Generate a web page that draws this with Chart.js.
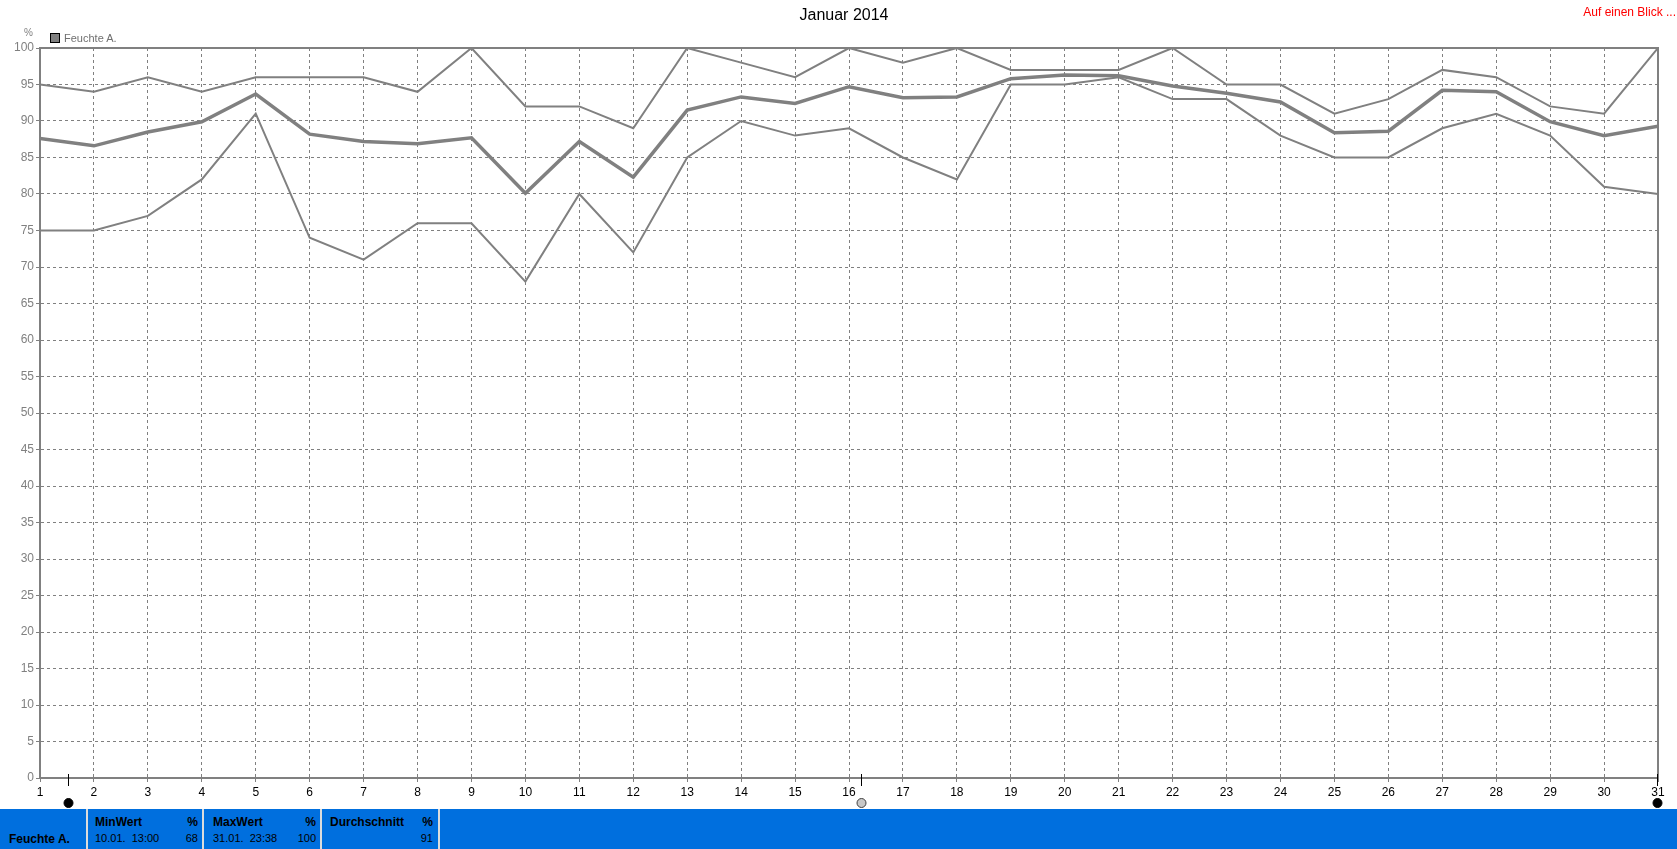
<!DOCTYPE html>
<html>
<head>
<meta charset="utf-8">
<script src="https://cdn.jsdelivr.net/npm/chart.js@4.4.0/dist/chart.umd.min.js"></script>
<style>
    body { margin: 0; width: 1677px; height: 849px; overflow: hidden; background: #fff; position: relative; font-family: "Liberation Sans", Arial, sans-serif; }
    #chart { position: absolute; left: 0; top: 0; }
    .txt { position: absolute; white-space: pre; }
    #title { left: 0; width: 1688px; top: 5px; text-align: center; font-size: 16px; line-height: 20px; color: #000; }
    #glance { right: 1px; top: 5px; font-size: 12px; line-height: 14px; color: #f00; }
    #unit { left: 24px; top: 27px; font-size: 10px; line-height: 12px; color: #808080; }
    #legendBox { position: absolute; left: 50px; top: 33px; width: 8px; height: 8px; background: #808080; border: 1px solid #000; }
    #legendText { left: 64px; top: 32px; font-size: 11px; line-height: 12px; color: #707070; }
    #status { position: absolute; left: 0; top: 809px; width: 1677px; height: 40px; background: #006fde; }
    .cell { position: absolute; top: 0; height: 40px; border-right: 2px solid #dcdcdc; }
    .cell span { position: absolute; white-space: pre; color: #000; }
    .head { top: 7px; font-size: 12px; line-height: 12px; font-weight: bold; }
    .val { top: 24px; font-size: 11px; line-height: 11px; }
</style>
</head>
<body>
<canvas id="chart" width="1677" height="809"></canvas>
<div class="txt" id="title">Januar 2014</div>
<div class="txt" id="glance">Auf einen Blick ...</div>
<div class="txt" id="unit">%</div>
<div id="legendBox"></div>
<div class="txt" id="legendText">Feuchte A.</div>
<div id="status">
    <div class="cell" style="left:0;width:86px;"><span class="head" style="left:9px;top:24px;">Feuchte A.</span></div>
    <div class="cell" style="left:88px;width:114px;">
        <span class="head" style="left:7px;">MinWert</span><span class="head" style="right:4px;">%</span>
        <span class="val" style="left:7px;">10.01.  13:00</span><span class="val" style="right:4px;">68</span>
    </div>
    <div class="cell" style="left:204px;width:116px;">
        <span class="head" style="left:9px;">MaxWert</span><span class="head" style="right:4px;">%</span>
        <span class="val" style="left:9px;">31.01.  23:38</span><span class="val" style="right:4px;">100</span>
    </div>
    <div class="cell" style="left:322px;width:116px;">
        <span class="head" style="left:8px;">Durchschnitt</span><span class="head" style="right:5px;">%</span>
        <span class="val" style="right:5px;">91</span>
    </div>
</div>
<script>
// days of January 2014
const days = [1, 2, 3, 4, 5, 6, 7, 8, 9, 10, 11, 12, 13, 14, 15, 16, 17, 18, 19, 20, 21, 22, 23, 24, 25, 26, 27, 28, 29, 30, 31];

// daily humidity (%)
const maxValues = [95, 94, 96, 94, 96, 96, 96, 94, 100, 92, 92, 89, 100, 98, 96, 100, 98, 100, 97, 97, 97, 100, 95, 95, 91, 93, 97, 96, 92, 91, 100];
const meanValues = [87.6, 86.6, 88.5, 89.9, 93.7, 88.2, 87.2, 86.9, 87.7, 80.1, 87.2, 82.3, 91.5, 93.3, 92.4, 94.7, 93.2, 93.3, 95.8, 96.3, 96.2, 94.8, 93.8, 92.6, 88.4, 88.6, 94.2, 94.0, 89.9, 88.0, 89.3];
const minValues = [75, 75, 77, 82, 91, 74, 71, 76, 76, 68, 80, 72, 85, 90, 88, 89, 85, 82, 95, 95, 96, 93, 93, 88, 85, 85, 89, 91, 88, 81, 80];

// moon phases shown under the x axis
const moonDays = [1.52, 16.22, 30.98];
const moonTypes = ['new', 'full', 'new'];

const toPoints = (values) => days.map((d, i) => ({ x: d, y: values[i] }));

const framePlugin = {
    id: 'frame',
    beforeDatasetsDraw(chart) {
        const { ctx, chartArea: a } = chart;
        ctx.save();
        ctx.strokeStyle = '#808080';
        ctx.lineWidth = 2;
        ctx.beginPath();
        ctx.moveTo(a.left, a.top);
        ctx.lineTo(a.right, a.top);
        ctx.lineTo(a.right, a.bottom);
        ctx.stroke();
        ctx.restore();
    }
};

const moonPlugin = {
    id: 'moons',
    afterDraw(chart) {
        const { ctx, chartArea: a } = chart;
        const xs = chart.scales.x;
        ctx.save();
        moonDays.forEach((day, i) => {
            const x = Math.round(xs.getPixelForValue(day)) + 0.5;
            ctx.strokeStyle = '#000';
            ctx.lineWidth = 1;
            ctx.beginPath();
            ctx.moveTo(x, a.bottom - 4);
            ctx.lineTo(x, a.bottom + 8);
            ctx.stroke();
            ctx.beginPath();
            ctx.arc(x, a.bottom + 25, 4.5, 0, Math.PI * 2);
            ctx.fillStyle = moonTypes[i] === 'new' ? '#000' : '#c8c8c8';
            ctx.fill();
            ctx.strokeStyle = moonTypes[i] === 'new' ? '#000' : '#404040';
            ctx.stroke();
        });
        ctx.restore();
    }
};

const lineStyle = (w) => ({
    borderColor: '#808080',
    backgroundColor: '#808080',
    borderWidth: w,
    pointRadius: 0,
    tension: 0,
    fill: false
});

new Chart(document.getElementById('chart'), {
    type: 'line',
    data: {
        datasets: [
            { label: 'Max', data: toPoints(maxValues), ...lineStyle(2) },
            { label: 'Feuchte A.', data: toPoints(meanValues), ...lineStyle(3.5) },
            { label: 'Min', data: toPoints(minValues), ...lineStyle(2) }
        ]
    },
    options: {
        responsive: false,
        animation: false,
        devicePixelRatio: 1,
        layout: { padding: { top: 48, right: 19, left: 0, bottom: 0 } },
        plugins: { legend: { display: false }, title: { display: false }, tooltip: { enabled: false } },
        scales: {
            x: {
                type: 'linear',
                min: 1,
                max: 31,
                afterFit(scale) { scale.height = 31; },
                ticks: { stepSize: 1, autoSkip: false, maxRotation: 0, padding: 3, color: '#000', font: { family: 'Liberation Sans', size: 12 } },
                grid: { color: '#808080', lineWidth: 1, tickLength: 4 },
                border: { color: '#808080', width: 2, dash: [3, 3] }
            },
            y: {
                min: 0,
                max: 100,
                afterFit(scale) { scale.width = 40; },
                ticks: { stepSize: 5, padding: 2, color: '#808080', font: { family: 'Liberation Sans', size: 12 } },
                grid: { color: '#808080', lineWidth: 1, tickLength: 4 },
                border: { color: '#808080', width: 2, dash: [3, 3] }
            }
        }
    },
    plugins: [framePlugin, moonPlugin]
});
</script>
</body>
</html>
